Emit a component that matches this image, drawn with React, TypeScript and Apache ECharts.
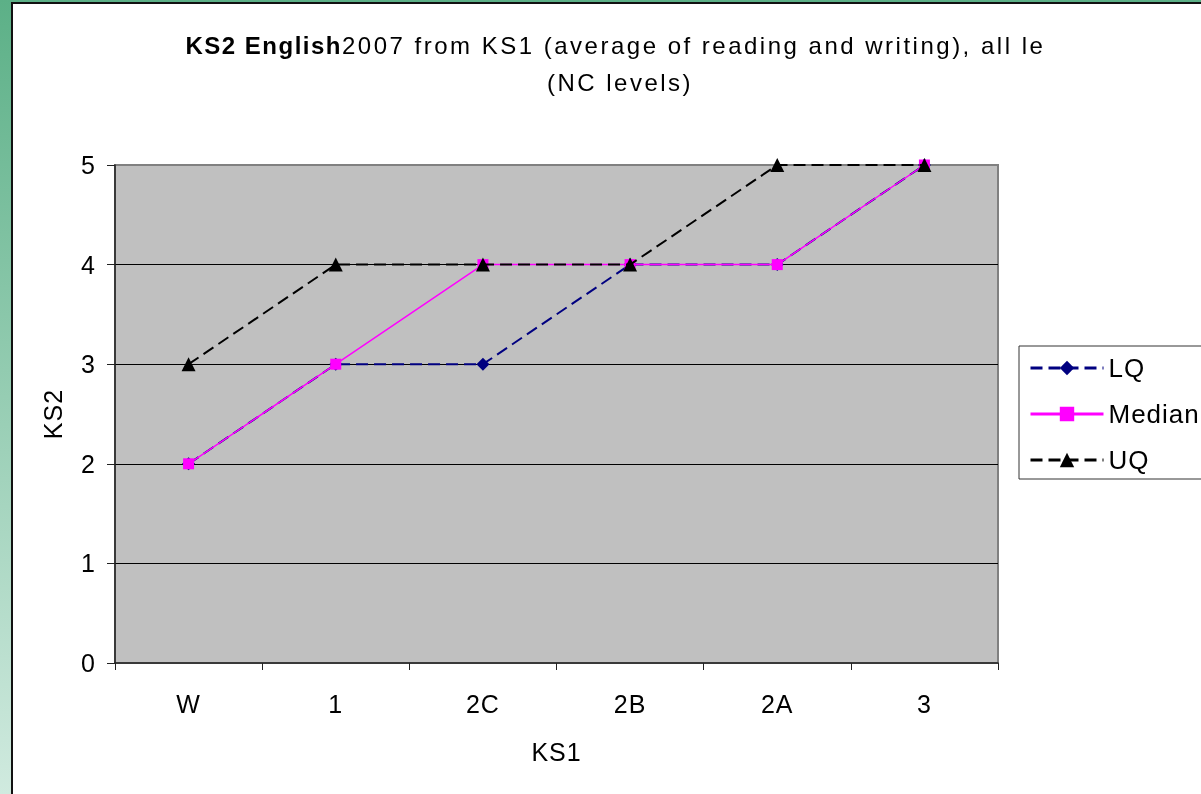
import React, { useEffect, useRef } from "react";
import * as echarts from "echarts";

const categories = ["W", "1", "2C", "2B", "2A", "3"];
const lqValues = [2, 3, 3, 4, 4, 5];
const medianValues = [2, 3, 4, 4, 4, 5];
const uqValues = [3, 4, 4, 4, 5, 5];
const yTicks = [0, 1, 2, 3, 4, 5];

const titleBold = "KS2 English";
const titleRest = "2007 from KS1 (average of reading and writing), all le";
const titleLine2 = "(NC levels)";

const FONT = '"Liberation Sans", Arial, sans-serif';

const css = `
.kschart text { letter-spacing: 1px; }
.kschart text[style*="24px"] { letter-spacing: 2.5px; }
.kschart text[style*="24px"][style*="bold"] { letter-spacing: 1.5px; }
`;

export default function App() {
  const ref = useRef<HTMLDivElement>(null);

  useEffect(() => {
    if (!ref.current) return;
    const chart = echarts.init(ref.current, null, { renderer: "svg" });
    chart.setOption({
      animation: false,
      backgroundColor: "transparent",
      graphic: [
        {
          type: "rect",
          z: -10,
          silent: true,
          shape: { x: 0, y: 0, width: 1201, height: 794 },
          style: {
            fill: new echarts.graphic.LinearGradient(0, 0, 0, 1, [
              { offset: 0, color: "#5cb087" },
              { offset: 1, color: "#d0eadf" },
            ]),
          },
        },
        {
          type: "rect",
          z: -9,
          silent: true,
          shape: { x: 11, y: 2, width: 1200, height: 800 },
          style: { fill: "#111" },
        },
        {
          type: "rect",
          z: -8,
          silent: true,
          shape: { x: 13, y: 4, width: 1200, height: 800 },
          style: { fill: "#ffffff" },
        },
        {
          type: "text",
          z: 10,
          x: 342,
          y: 45,
          style: {
            text: titleBold,
            fontFamily: FONT,
            fontSize: 24,
            fontWeight: "bold",
            fill: "#000",
            textAlign: "right",
            textVerticalAlign: "middle",
          },
        },
        {
          type: "text",
          z: 10,
          x: 342,
          y: 45,
          style: {
            text: titleRest,
            fontFamily: FONT,
            fontSize: 24,
            fill: "#000",
            textAlign: "left",
            textVerticalAlign: "middle",
          },
        },
        {
          type: "text",
          z: 10,
          x: 620,
          y: 82,
          style: {
            text: titleLine2,
            fontFamily: FONT,
            fontSize: 24,
            fill: "#000",
            textAlign: "center",
            textVerticalAlign: "middle",
          },
        },
      ],
      grid: {
        left: 115,
        top: 165,
        width: 883,
        height: 498,
        show: true,
        backgroundColor: "#c0c0c0",
        borderColor: "#808080",
        borderWidth: 2,
      },
      legend: {
        orient: "vertical",
        left: 1019,
        top: 346,
        padding: [9, 40, 6, 10],
        itemGap: 20,
        itemWidth: 73,
        itemHeight: 18,
        backgroundColor: "#ffffff",
        borderColor: "#333",
        borderWidth: 1,
        borderRadius: 0,
        lineStyle: { width: 3 },
        textStyle: { fontFamily: FONT, fontSize: 26, color: "#000" },
        data: ["LQ", "Median", "UQ"],
      },
      xAxis: {
        type: "category",
        data: categories,
        boundaryGap: true,
        name: "KS1",
        nameLocation: "middle",
        nameGap: 76,
        nameTextStyle: { fontFamily: FONT, fontSize: 25, color: "#000" },
        axisLine: { show: true, lineStyle: { color: "#222", width: 1.5 } },
        axisTick: { show: true, length: 7, lineStyle: { color: "#222" } },
        axisLabel: { fontFamily: FONT, fontSize: 25, color: "#000", margin: 28 },
        splitLine: { show: false },
      },
      yAxis: {
        type: "value",
        min: yTicks[0],
        max: yTicks[yTicks.length - 1],
        interval: 1,
        name: "KS2",
        nameLocation: "middle",
        nameGap: 50,
        nameRotate: 90,
        nameTextStyle: { fontFamily: FONT, fontSize: 25, color: "#000" },
        axisLine: { show: true, lineStyle: { color: "#222", width: 1.5 } },
        axisTick: { show: true, length: 8, lineStyle: { color: "#222" } },
        axisLabel: { fontFamily: FONT, fontSize: 25, color: "#000", margin: 19 },
        splitLine: {
          show: true,
          showMinLine: false,
          showMaxLine: false,
          lineStyle: { color: "#000", width: 1 },
        },
      },
      series: [
        {
          name: "LQ",
          type: "line",
          data: lqValues,
          symbol: "diamond",
          symbolSize: 13,
          color: "#000080",
          itemStyle: { color: "#000080" },
          lineStyle: { color: "#000080", width: 2, type: [12, 6] },
          z: 3,
        },
        {
          name: "Median",
          type: "line",
          data: medianValues,
          symbol: "rect",
          symbolSize: 11,
          color: "#ff00ff",
          itemStyle: { color: "#ff00ff" },
          lineStyle: { color: "#ff00ff", width: 1.5, type: "solid" },
          z: 4,
        },
        {
          name: "UQ",
          type: "line",
          data: uqValues,
          symbol: "triangle",
          symbolSize: 14,
          color: "#000000",
          itemStyle: { color: "#000000" },
          lineStyle: { color: "#000000", width: 2, type: [12, 6] },
          z: 5,
        },
      ],
    });
    return () => chart.dispose();
  }, []);

  return (
    <div style={{ position: "fixed", left: 0, top: 0, width: 1201, height: 794, overflow: "hidden" }}>
      <style>{css}</style>
      <div ref={ref} className="kschart" style={{ width: 1201, height: 794 }} />
    </div>
  );
}
